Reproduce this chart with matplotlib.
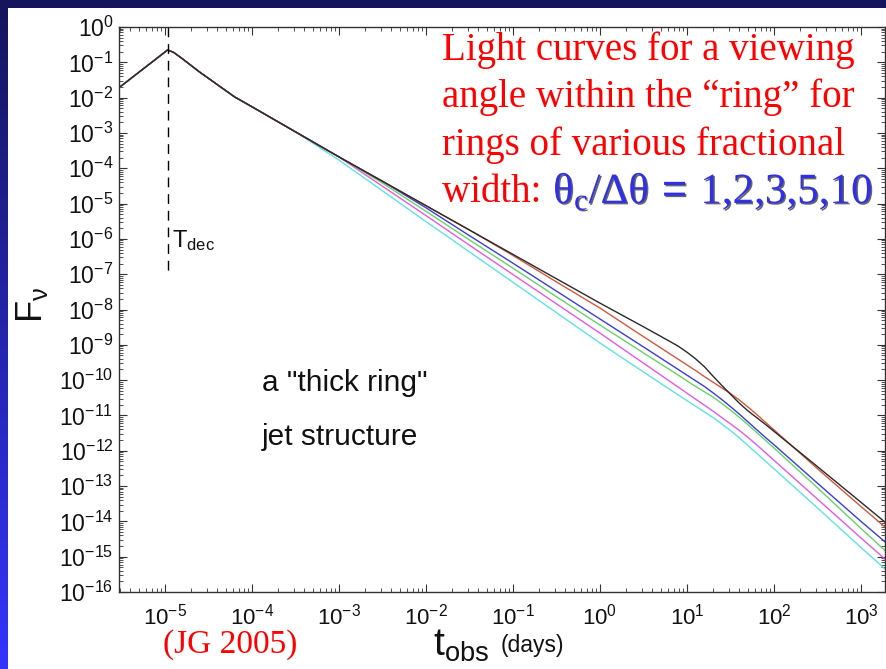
import numpy as np
import matplotlib
matplotlib.use("Agg")
import matplotlib.pyplot as plt
import matplotlib.patheffects as pe
from matplotlib.patches import Rectangle
from matplotlib.colors import LinearSegmentedColormap
from matplotlib.ticker import LogLocator, NullFormatter

plt.rcParams['font.family'] = ['Liberation Sans', 'DejaVu Sans']
plt.rcParams['mathtext.fontset'] = 'custom'
plt.rcParams['mathtext.rm'] = 'Liberation Sans'
plt.rcParams['mathtext.it'] = 'Liberation Sans:italic'

# light curves (log10 of t in days, log10 of F_nu)
log_t = [-5.53, -5.2, -4.97, -4.9, -4.8, -4.6, -4.4, -4.2, -4.0, -3.5,
         -3.0, -2.5, -2.0, -1.5, -1.0, -0.5,
         0.0, 0.5, 0.8, 0.9, 1.0, 1.1, 1.2, 1.3, 1.4, 1.5, 1.6, 1.7, 1.8, 1.9, 2.0, 2.5, 3.0, 3.3]
early = [-1.72, -1.09, -0.65, -0.72, -0.90, -1.28, -1.63, -1.98, -2.26, -2.97]
logF_black = early + [-3.68, -4.37, -5.06, -5.75, -6.44, -7.13,
                      -7.82, -8.49, -8.90, -9.04, -9.21, -9.40, -9.62, -9.89, -10.15, -10.40, -10.65,
                      -10.87, -11.06, -11.25, -11.45, -12.45, -13.46, -14.07]
logF_red = early + [-3.68, -4.37, -5.06, -5.75, -6.47, -7.22,
                    -7.96, -8.77, -9.25, -9.41, -9.57, -9.73, -9.90, -10.06, -10.22, -10.38, -10.56,
                    -10.76, -10.97, -11.19, -11.41, -12.51, -13.58, -14.21]
logF_blue = early + [-3.68, -4.37, -5.12, -5.91, -6.69, -7.48,
                     -8.27, -9.06, -9.54, -9.70, -9.86, -10.02, -10.18, -10.36, -10.55, -10.75, -10.96,
                     -11.18, -11.40, -11.62, -11.83, -12.92, -14.00, -14.63]
logF_green = early + [-3.68, -4.42, -5.22, -6.03, -6.83, -7.64,
                      -8.44, -9.23, -9.70, -9.86, -10.02, -10.18, -10.33, -10.48, -10.66, -10.85, -11.05,
                      -11.26, -11.48, -11.70, -11.92, -13.05, -14.20, -14.88]
logF_magenta = early + [-3.68, -4.51, -5.34, -6.18, -7.01, -7.84,
                        -8.67, -9.52, -10.03, -10.20, -10.37, -10.54, -10.71, -10.88, -11.06, -11.24, -11.42,
                        -11.62, -11.83, -12.05, -12.27, -13.37, -14.47, -15.12]
logF_cyan = early + [-3.77, -4.64, -5.51, -6.37, -7.23, -8.09,
                     -8.95, -9.77, -10.26, -10.42, -10.58, -10.74, -10.90, -11.06, -11.24, -11.43, -11.63,
                     -11.85, -12.07, -12.29, -12.51, -13.62, -14.74, -15.40]

series = [
    (logF_cyan, '#5fe3e3'),
    (logF_magenta, '#e45ae4'),
    (logF_green, '#66d466'),
    (logF_blue, '#3c3cd8'),
    (logF_red, '#d2583e'),
    (logF_black, '#2a2a2a'),
]

t_dec = 1.07e-5
tdec_top, tdec_bottom = 1.0, 1e-7

W, H = 886, 669
fig = plt.figure(figsize=(W / 100, H / 100), dpi=100)
fig.patch.set_facecolor('white')

# slide border: navy bar on top, gradient bar on the left
fig.patches.append(Rectangle((0, 1 - 8 / H), 1, 8 / H, transform=fig.transFigure,
                             facecolor='#15155e', edgecolor='none', zorder=0))
bar = fig.add_axes([0, 0, 8 / W, 1 - 8 / H])
grad = np.linspace(0, 1, 256).reshape(-1, 1)
cmap = LinearSegmentedColormap.from_list('bar', ['#3434ff', '#15155e'])
bar.imshow(grad, aspect='auto', cmap=cmap, origin='lower')
bar.axis('off')

ax = fig.add_axes([119 / W, 1 - 592 / H, (885 - 119) / W, (592 - 27) / H])
t = 10 ** np.array(log_t)
for logF, c in series:
    ax.plot(t, 10 ** np.array(logF), color=c, lw=1.0)

ax.plot([t_dec, t_dec], [tdec_top, tdec_bottom], color='black', lw=1.0, ls=(0, (7, 5)))

ax.set_xscale('log')
ax.set_yscale('log')
ax.set_xlim(10 ** -5.529, 10 ** 3.276)
ax.set_ylim(1e-16, 1)
ax.set_yticks([10.0 ** k for k in range(-16, 1)])
ax.set_xticks([10.0 ** k for k in range(-5, 4)])
ax.xaxis.set_minor_locator(LogLocator(base=10, subs=np.arange(2, 10), numticks=30))
ax.yaxis.set_minor_locator(LogLocator(base=10, subs=np.arange(2, 10), numticks=30))
ax.xaxis.set_minor_formatter(NullFormatter())
ax.yaxis.set_minor_formatter(NullFormatter())
ax.tick_params(which='both', direction='in', top=True, right=True, colors='#333333',
               labelcolor='#111111')
ax.tick_params(axis='y', labelsize=16.5, pad=4)
ax.tick_params(axis='x', labelsize=16, pad=8)
ax.tick_params(which='major', length=6, width=0.8)
ax.tick_params(which='minor', length=3, width=0.6)
for s in ax.spines.values():
    s.set_color('#333333')
    s.set_linewidth(1.0)


def px(x, y):
    return x / W, 1 - y / H


fig.text(*px(172, 247), r'$\mathdefault{T}_{\mathdefault{dec}}$', fontsize=17, color='#111111',
         va='baseline')
fig.text(*px(262, 391), 'a "thick ring"', fontsize=21.5, color='#111111', va='baseline')
fig.text(*px(262, 445), 'jet structure', fontsize=21.5, color='#111111', va='baseline')

fig.text(*px(32, 305), r'$\mathdefault{F}_{\mathdefault{ν}}$', fontsize=26, color='#111111',
         rotation=90, ha='center', va='center')
fig.text(*px(433, 656), r'$\mathdefault{t}_{\mathdefault{obs}}$', fontsize=28, color='#111111',
         va='baseline')
fig.text(*px(501, 652), '(days)', fontsize=16.5, color='#111111', va='baseline')

red_lines = ['Light curves for a viewing', 'angle within the \u201cring\u201d for',
             'rings of various fractional', 'width: ']
for i, line in enumerate(red_lines):
    fig.text(*px(442, 60 + 47.5 * i), line, fontsize=28, color='#ff0000',
             family='Liberation Serif', va='baseline')
fig.text(*px(553, 203),
         r'$\mathdefault{θ}_{\mathdefault{c}}\mathdefault{/Δθ}\,=\,\mathdefault{1{,}2{,}3{,}5{,}10}$',
         fontsize=31, color='#3030ea', family='Liberation Serif', va='baseline',
         path_effects=[pe.withSimplePatchShadow(offset=(1.0, -1.0), shadow_rgbFace='black', alpha=0.6)])

fig.text(*px(163, 653), '(JG 2005)', fontsize=24, color='#ff0000', family='Liberation Serif',
         va='baseline')

fig.savefig('out.png', dpi=100)
